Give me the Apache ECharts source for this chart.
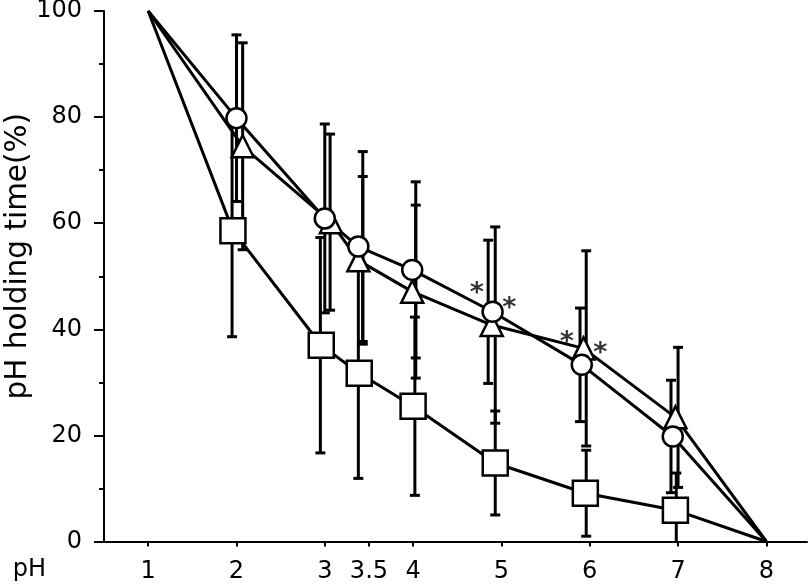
<!DOCTYPE html>
<html>
<head>
<meta charset="utf-8">
<script src="https://cdn.jsdelivr.net/npm/echarts@6/dist/echarts.min.js"></script>
<style>
html, body { margin: 0; padding: 0; background: #fff; }
#chart { width: 809px; height: 585px; }
</style>
</head>
<body>
<div id="chart"></div>
<script>
// tick positions on the pH axis
var xTicks = [1, 2, 3, 3.5, 4, 5, 6, 7, 8];

// open circles
var circleX = [1, 2.0, 3.0, 3.38, 3.99, 4.90, 5.91, 6.94, 8];
var circleY = [100, 79.8, 60.9, 55.6, 51.2, 43.3, 33.3, 19.8, 0];
var circleSd = [0, 15.7, 17.8, 17.9, 16.6, 13.5, 10.7, 10.6, 0];
var circleBarX = [1, 2.0, 3.0, 3.43, 4.03, 4.85, 5.89, 6.92, 8];

// open triangles
var triX = [1, 2.07, 3.07, 3.38, 3.99, 4.89, 5.93, 6.97, 8];
var triY = [100, 74.5, 60.2, 53.0, 47.1, 40.8, 36.4, 23.4, 0];
var triSd = [0, 19.5, 16.6, 15.8, 16.3, 18.5, 18.4, 13.2, 0];
var triBarX = [1, 2.07, 3.06, 3.43, 4.03, 4.93, 5.96, 7.0, 8];

// open squares
var sqX = [1, 1.96, 2.96, 3.39, 4.0, 4.93, 5.95, 6.97, 8];
var sqY = [100, 58.6, 37.0, 31.7, 25.5, 14.8, 9.1, 5.9, 0];
var sqSd = [0, 20.0, 20.3, 19.8, 16.8, 9.8, 8.1, 7.0, 0];
var sqBarX = [1, 1.95, 2.95, 3.38, 4.02, 4.93, 5.96, 6.98, 8];

// significance marks
var starX = [4.72, 5.09, 5.74, 6.12];
var starY = [47.9, 45.2, 38.7, 36.6];

var chart = echarts.init(document.getElementById('chart'));

function lineData(xs, ys) {
    var out = [];
    for (var i = 0; i < xs.length; i++) {
        var item = { value: [xs[i], ys[i]] };
        if (i === 0 || i === xs.length - 1) item.symbol = 'none';
        out.push(item);
    }
    return out;
}

function errorBars(xs, ys, sds) {
    var data = [];
    for (var i = 0; i < xs.length; i++) {
        if (sds[i] > 0) data.push([xs[i], ys[i] - sds[i], ys[i] + sds[i]]);
    }
    return {
        type: 'custom',
        silent: true,
        z: 1,
        encode: { x: 0, y: [1, 2] },
        data: data,
        renderItem: function (params, api) {
            var x = api.value(0);
            var loVal = api.value(1);
            var hi = api.coord([x, api.value(2)]);
            var lo = api.coord([x, Math.max(0, loVal)]);
            var w = 5;
            var style = { stroke: '#000', lineWidth: 3, fill: null };
            var kids = [
                { type: 'line', shape: { x1: lo[0], y1: lo[1], x2: hi[0], y2: hi[1] }, style: style },
                { type: 'line', shape: { x1: hi[0] - w, y1: hi[1], x2: hi[0] + w, y2: hi[1] }, style: style }
            ];
            if (loVal > 0) {
                kids.push({ type: 'line', shape: { x1: lo[0] - w, y1: lo[1], x2: lo[0] + w, y2: lo[1] }, style: style });
            }
            return { type: 'group', children: kids };
        }
    };
}

function markerLine(xs, ys, symbol, size) {
    return {
        type: 'line',
        z: 3,
        data: lineData(xs, ys),
        symbol: symbol,
        symbolSize: size,
        showAllSymbol: true,
        lineStyle: { color: '#000', width: 3 },
        itemStyle: { color: '#fff', borderColor: '#000', borderWidth: 2.5 },
        emphasis: { disabled: true },
        animation: false
    };
}

var starData = [];
for (var i = 0; i < starX.length; i++) starData.push([starX[i], starY[i]]);

chart.setOption({
    animation: false,
    textStyle: { fontFamily: 'DejaVu Sans' },
    grid: { left: 104, right: 2, top: 11, bottom: 43.5, outerBoundsMode: 'none', containLabel: false },
    xAxis: {
        type: 'value',
        min: 0.5,
        max: 8.46,
        name: ' \npH',
        nameLocation: 'start',
        nameGap: 58,
        nameMoveOverlap: false,
        nameTextStyle: { color: '#000', fontSize: 24, fontFamily: 'DejaVu Sans', lineHeight: 56 },
        axisLine: { show: true, onZero: false, lineStyle: { color: '#000', width: 2 } },
        axisTick: { show: true, customValues: xTicks, length: 5, lineStyle: { color: '#000', width: 2 } },
        axisLabel: { customValues: xTicks, color: '#000', fontSize: 24, fontFamily: 'DejaVu Sans', margin: 18 },
        splitLine: { show: false }
    },
    yAxis: {
        type: 'value',
        min: 0,
        max: 100,
        interval: 20,
        name: 'pH holding time(%)',
        nameLocation: 'middle',
        nameGap: 71,
        nameMoveOverlap: false,
        nameTextStyle: { color: '#000', fontSize: 29.5, fontFamily: 'DejaVu Sans', padding: [0, 0, 0, 40] },
        axisLine: { show: true, lineStyle: { color: '#000', width: 2 } },
        axisTick: { show: true, length: 10, lineStyle: { color: '#000', width: 2 } },
        minorTick: { show: true, splitNumber: 2, length: 5, lineStyle: { color: '#000', width: 2 } },
        axisLabel: { color: '#000', fontSize: 24, fontFamily: 'DejaVu Sans', margin: 22 },
        splitLine: { show: false },
        minorSplitLine: { show: false }
    },
    series: [
        errorBars(sqBarX, sqY, sqSd),
        errorBars(triBarX, triY, triSd),
        errorBars(circleBarX, circleY, circleSd),
        markerLine(sqX, sqY, 'rect', 25),
        markerLine(triX, triY, 'triangle', 22),
        markerLine(circleX, circleY, 'circle', 20),
        {
            type: 'scatter',
            z: 4,
            silent: true,
            data: starData,
            symbolSize: 1,
            itemStyle: { color: 'transparent' },
            label: {
                show: true,
                position: 'inside',
                formatter: '*',
                color: '#000',
                fontSize: 27,
                fontWeight: 'bold',
                fontFamily: 'DejaVu Sans',
                offset: [0, 7]
            }
        }
    ]
});

window.addEventListener('resize', function () {
    chart.resize();
});
</script>
</body>
</html>
